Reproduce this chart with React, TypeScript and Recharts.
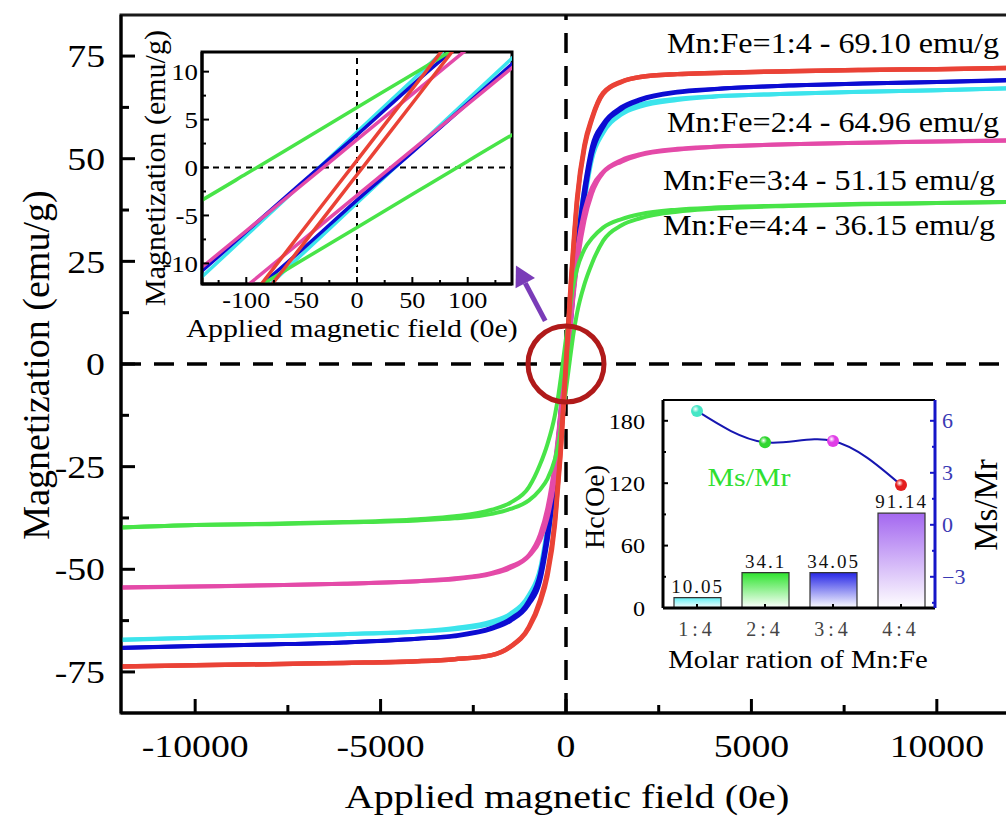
import React from "react";
import {
  LineChart,
  Line,
  XAxis,
  YAxis,
  ReferenceLine,
  ReferenceArea,
  ReferenceDot,
  ComposedChart,
  Bar,
  Cell,
  LabelList,
} from "recharts";

const SERIF = "'Liberation Serif', 'Times New Roman', serif";

// applied field (Oe), shared by every branch
const FIELD = [
  -12000, -10000, -8000, -6000, -4000, -3000, -2000, -1500, -1000, -700, -500,
  -300, -200, -140, -100, -50, 0, 50, 100, 140, 200, 300, 500, 700, 1000, 1500,
  2000, 3000, 4000, 6000, 8000, 10000, 12000,
];

// magnetization (emu/g), "down" = branch coming from +saturation, "up" = from -saturation
const RED_DOWN = [
  -73.7, -73.4, -73.1, -72.8, -72.4, -71.9, -70.9, -68.8, -64.0, -57.5, -50.5,
  -38.0, -27.0, -20.1, -14.2, -6.7, 0.75, 8.2, 15.6, 21.3, 29.0, 40.5, 53.5,
  60.0, 66.0, 68.8, 69.9, 70.6, 70.9, 71.3, 71.6, 71.8, 72.1,
];
const RED_UP = [
  -73.7, -73.4, -73.1, -72.8, -72.4, -71.9, -70.9, -68.9, -64.3, -58.2, -51.6,
  -39.2, -28.2, -21.3, -15.6, -8.2, -0.75, 6.7, 14.2, 20.1, 27.8, 39.5, 52.8,
  59.6, 65.8, 68.7, 69.9, 70.6, 70.9, 71.3, 71.6, 71.8, 72.1,
];
const BLUE_DOWN = [
  -69.1, -68.7, -68.3, -67.8, -66.9, -66.1, -64.2, -62.1, -57.6, -51.0, -40.5,
  -25.2, -17.0, -10.8, -6.7, -1.6, 3.4, 8.6, 13.6, 17.7, 22.8, 29.7, 43.2, 53.0,
  58.5, 62.6, 64.5, 66.3, 67.0, 67.8, 68.3, 68.7, 69.2,
];
const BLUE_UP = [
  -69.2, -68.7, -68.3, -67.8, -66.9, -66.3, -64.5, -62.6, -58.5, -53.0, -43.2,
  -29.7, -22.8, -17.7, -13.6, -8.6, -3.4, 1.6, 6.7, 10.8, 17.0, 25.2, 40.5, 51.0,
  57.6, 62.1, 64.2, 66.1, 66.9, 67.8, 68.3, 68.7, 69.1,
];
const CYAN_DOWN = [
  -67.2, -66.7, -66.3, -65.8, -65.1, -64.3, -62.7, -60.8, -56.2, -49.8, -39.5,
  -26.0, -17.7, -11.4, -7.1, -1.7, 3.7, 9.1, 14.5, 18.5, 23.5, 31.0, 43.0, 51.5,
  57.2, 61.5, 63.2, 64.6, 65.2, 65.8, 66.3, 66.7, 67.1,
];
const CYAN_UP = [
  -67.1, -66.7, -66.3, -65.8, -65.2, -64.6, -63.2, -61.5, -57.2, -51.5, -43.0,
  -31.0, -23.5, -18.5, -14.5, -9.1, -3.7, 1.7, 7.1, 11.4, 17.7, 26.0, 39.5, 49.8,
  56.2, 60.8, 62.7, 64.3, 65.1, 65.8, 66.3, 66.7, 67.2,
];
const MAGENTA_DOWN = [
  -54.4, -54.2, -53.9, -53.5, -52.9, -52.2, -50.9, -49.3, -46.5, -41.5, -35.0,
  -24.0, -16.2, -10.4, -6.6, -1.85, 2.9, 7.65, 12.4, 16.2, 21.0, 28.0, 37.5,
  43.0, 46.8, 49.7, 51.1, 52.4, 52.9, 53.5, 53.9, 54.2, 54.5,
];
const MAGENTA_UP = [
  -54.5, -54.2, -53.9, -53.5, -52.9, -52.4, -51.1, -49.7, -46.8, -43.0, -37.5,
  -28.0, -21.0, -16.2, -12.4, -7.65, -2.9, 1.85, 6.6, 10.4, 16.2, 24.0, 35.0,
  41.5, 46.5, 49.3, 50.9, 52.2, 52.9, 53.5, 53.9, 54.2, 54.4,
];
const GREEN_DOWN = [
  -39.8, -39.2, -38.9, -38.5, -37.8, -37.1, -35.5, -33.8, -30.0, -24.5, -19.5,
  -12.5, -7.3, -3.4, -0.66, 2.8, 6.26, 9.7, 13.2, 15.9, 19.3, 23.2, 28.0, 30.6,
  33.2, 35.3, 36.5, 37.6, 38.1, 38.6, 39.0, 39.2, 39.5,
];
const GREEN_UP = [
  -39.8, -39.2, -39.0, -38.6, -38.1, -37.6, -36.5, -35.3, -33.2, -30.6, -28.0,
  -23.2, -19.3, -15.9, -13.2, -9.7, -6.26, -2.8, 0.66, 3.4, 7.3, 12.5, 19.5,
  24.5, 30.0, 33.8, 35.5, 37.1, 37.8, 38.5, 38.9, 39.2, 39.5,
];

const SAT_LABELS = [
  "Mn:Fe=1:4 - 69.10 emu/g",
  "Mn:Fe=2:4 - 64.96 emu/g",
  "Mn:Fe=3:4 - 51.15 emu/g",
  "Mn:Fe=4:4 - 36.15 emu/g",
];

// inset bar chart
const RATIOS = ["1:4", "2:4", "3:4", "4:4"];
const HC = [10.05, 34.1, 34.05, 91.14];
const MS_MR = [6.57, 4.76, 4.84, 2.3];

const MAIN_X_TICKS = [-10000, -7500, -5000, -2500, 0, 2500, 5000, 7500, 10000];
const MAIN_Y_TICKS = [-75, -62.5, -50, -37.5, -25, -12.5, 0, 12.5, 25, 37.5, 50, 62.5, 75];
const INSET_X_TICKS = [-125, -100, -75, -50, -25, 0, 25, 50, 75, 100, 125];
const INSET_Y_TICKS = [-10, -7.5, -5, -2.5, 0, 2.5, 5, 7.5, 10];
const HC_TICKS = [0, 30, 60, 90, 120, 150, 180];
const MSMR_TICKS = [-4.5, -3, -1.5, 0, 1.5, 3, 4.5, 6];

const rows = FIELD.map((h, i) => ({
  h,
  redDown: RED_DOWN[i],
  redUp: RED_UP[i],
  blueDown: BLUE_DOWN[i],
  blueUp: BLUE_UP[i],
  cyanDown: CYAN_DOWN[i],
  cyanUp: CYAN_UP[i],
  magDown: MAGENTA_DOWN[i],
  magUp: MAGENTA_UP[i],
  greenDown: GREEN_DOWN[i],
  greenUp: GREEN_UP[i],
}));

const barRows = RATIOS.map((r, i) => ({ ratio: r, hc: HC[i], msmr: MS_MR[i] }));

// draw order matters: later ones sit on top
const SERIES = [
  { key: "cyan", color: "#3ce4ec" },
  { key: "blue", color: "#0c0cd2" },
  { key: "mag", color: "#e44aa8" },
  { key: "green", color: "#48e448" },
  { key: "red", color: "#ea4236" },
];

const BAR_TOP = ["#5ff0f5", "#2ee42e", "#2626e6", "#a468f0"];
const BALL = ["#45e6c6", "#2fd62f", "#e03ee6", "#e41e1e"];

interface TickCfg {
  side: "left" | "right" | "bottom";
  margin: number;
  isMajor: (v: any) => boolean;
  majorLen: number;
  minorLen: number;
  fontSize: number;
  sx: number;
  color: string;
  tickColor: string;
  tickWidth: number;
  fmt?: (v: any) => string;
  spacing?: number;
}

function makeTick(c: TickCfg) {
  return (props: any) => {
    const { x, y, payload } = props;
    const v = payload.value;
    const major = c.isMajor(v);
    const len = major ? c.majorLen : c.minorLen;
    const label = major ? (c.fmt ? c.fmt(v) : String(v)) : "";
    const textProps = {
      fill: c.color,
      fontSize: c.fontSize,
      fontFamily: SERIF,
      letterSpacing: c.spacing ?? 0,
    };
    if (c.side === "bottom") {
      const ay = y - c.margin;
      return (
        <g>
          {len > 0 && (
            <line x1={x} x2={x} y1={ay} y2={ay - len} stroke={c.tickColor} strokeWidth={c.tickWidth} />
          )}
          <text transform={`translate(${x},${y}) scale(${c.sx},1)`} textAnchor="middle" dy="0.71em" {...textProps}>
            {label}
          </text>
        </g>
      );
    }
    const dir = c.side === "left" ? 1 : -1;
    const ax = x + dir * c.margin;
    return (
      <g>
        {len > 0 && (
          <line x1={ax} x2={ax + dir * len} y1={y} y2={y} stroke={c.tickColor} strokeWidth={c.tickWidth} />
        )}
        <text
          transform={`translate(${x},${y}) scale(${c.sx},1)`}
          textAnchor={c.side === "left" ? "end" : "start"}
          dy="0.35em"
          {...textProps}
        >
          {label}
        </text>
      </g>
    );
  };
}

const mainXTick = makeTick({
  side: "bottom", margin: 21, isMajor: (v) => v % 5000 === 0, majorLen: 14, minorLen: 8,
  fontSize: 32, sx: 1.18, color: "#000", tickColor: "#000", tickWidth: 3,
});
const mainYTick = makeTick({
  side: "left", margin: 16, isMajor: (v) => v % 25 === 0, majorLen: 14, minorLen: 8,
  fontSize: 32, sx: 1.18, color: "#000", tickColor: "#000", tickWidth: 3,
});
const insetXTick = makeTick({
  side: "bottom", margin: 8, isMajor: (v) => v % 50 === 0, majorLen: 7, minorLen: 4,
  fontSize: 23, sx: 1.14, color: "#000", tickColor: "#000", tickWidth: 2,
});
const insetYTick = makeTick({
  side: "left", margin: 4, isMajor: (v) => v % 5 === 0, majorLen: 7, minorLen: 4,
  fontSize: 24, sx: 1.12, color: "#000", tickColor: "#000", tickWidth: 2,
});
const hcTick = makeTick({
  side: "left", margin: 18, isMajor: (v) => v % 60 === 0, majorLen: 5, minorLen: 3,
  fontSize: 22, sx: 1.1, color: "#000", tickColor: "#000", tickWidth: 2,
});
const msmrTick = makeTick({
  side: "right", margin: 7, isMajor: (v) => v % 3 === 0, majorLen: 5, minorLen: 3,
  fontSize: 20, sx: 1.1, color: "#3a3ab4", tickColor: "#1515c8", tickWidth: 2,
  fmt: (v) => (v < 0 ? `\u2212${Math.abs(v)}` : String(v)),
});
const ratioTick = makeTick({
  side: "bottom", margin: 14, isMajor: () => true, majorLen: 4, minorLen: 4,
  fontSize: 20, sx: 1, color: "#444", tickColor: "#000", tickWidth: 2, spacing: 4,
});

function ArrowShape(props: any) {
  const { x1, y1, x2, y2 } = props;
  const ang = Math.atan2(y2 - y1, x2 - x1);
  const hl = 20;
  const hw = 11;
  const bx = x2 - hl * Math.cos(ang);
  const by = y2 - hl * Math.sin(ang);
  const px = -Math.sin(ang) * hw;
  const py = Math.cos(ang) * hw;
  return (
    <g>
      <line x1={x1} y1={y1} x2={bx} y2={by} stroke="#7a3cb8" strokeWidth={5} />
      <polygon points={`${x2},${y2} ${bx + px},${by + py} ${bx - px},${by - py}`} fill="#7a3cb8" />
    </g>
  );
}

function BallDot(props: any) {
  const { cx, cy, index } = props;
  return <circle key={`ball-${index}`} cx={cx} cy={cy} r={6} fill={`url(#ball${index})`} />;
}

function Txt(props: {
  x: number; y: number; size: number; children: React.ReactNode;
  rotate?: boolean; sx?: number; left?: boolean; color?: string;
}) {
  const { x, y, size, rotate, sx = 1, left, color = "#000" } = props;
  const transform = left
    ? `translateY(-50%) scaleX(${sx})`
    : `translate(-50%,-50%)${rotate ? " rotate(-90deg)" : ""} scaleX(${sx})`;
  return (
    <div
      style={{
        position: "absolute", left: x, top: y, fontSize: size, lineHeight: 1,
        whiteSpace: "nowrap", fontFamily: SERIF, color, transform,
        transformOrigin: left ? "left center" : "center center",
      }}
    >
      {props.children}
    </div>
  );
}

function MainChart() {
  return (
    <LineChart width={1012} height={818} data={rows} margin={{ top: 15, right: 1, left: 0, bottom: 0 }}>
      <XAxis
        type="number" dataKey="h" domain={[-12000, 12000]} ticks={MAIN_X_TICKS} interval={0}
        tick={mainXTick} tickLine={false} tickSize={0} tickMargin={21} height={105}
        axisLine={{ stroke: "#000", strokeWidth: 3 }}
      />
      <YAxis
        type="number" domain={[-85, 85]} ticks={MAIN_Y_TICKS} interval={0}
        tick={mainYTick} tickLine={false} tickSize={0} tickMargin={16} width={121}
        axisLine={{ stroke: "#000", strokeWidth: 3 }}
      />
      <ReferenceArea x1={-12000} x2={12000} y1={-85} y2={85} fill="none" fillOpacity={0} stroke="#1a1a1a" strokeWidth={3} />
      <ReferenceLine x={0} stroke="#000" strokeWidth={3.5} strokeDasharray="20 13" />
      <ReferenceLine y={0} stroke="#000" strokeWidth={3.5} strokeDasharray="20 13" />
      <ReferenceDot x={0} y={0} r={38} fill="none" stroke="#b01a1a" strokeWidth={5} />
      {SERIES.flatMap((s) => [
        <Line key={`${s.key}d`} type="monotone" dataKey={`${s.key}Down`} stroke={s.color}
          strokeWidth={s.key === "red" ? 4.5 : 4} dot={false} isAnimationActive={false} />,
        <Line key={`${s.key}u`} type="monotone" dataKey={`${s.key}Up`} stroke={s.color}
          strokeWidth={s.key === "red" ? 4.5 : 4} dot={false} isAnimationActive={false} />,
      ])}
      <ReferenceLine
        segment={[{ x: -560, y: 10.5 }, { x: -1350, y: 24 }]}
        shape={ArrowShape}
        ifOverflow="visible"
      />
    </LineChart>
  );
}

function LoopInset() {
  return (
    <LineChart width={390} height={330} data={rows} margin={{ top: 32, right: 18, left: 0, bottom: 0 }}>
      <XAxis
        type="number" dataKey="h" domain={[-140, 140]} allowDataOverflow ticks={INSET_X_TICKS} interval={0}
        tick={insetXTick} tickLine={false} tickSize={0} tickMargin={8} height={66}
        axisLine={{ stroke: "#000", strokeWidth: 3 }}
      />
      <YAxis
        type="number" domain={[-12.15, 12.05]} allowDataOverflow ticks={INSET_Y_TICKS} interval={0}
        tick={insetYTick} tickLine={false} tickSize={0} tickMargin={4} width={62}
        axisLine={{ stroke: "#000", strokeWidth: 3 }}
      />
      <ReferenceLine x={0} stroke="#000" strokeWidth={2} strokeDasharray="6 5" />
      <ReferenceLine y={0} stroke="#000" strokeWidth={2} strokeDasharray="6 5" />
      {SERIES.flatMap((s) => [
        <Line key={`${s.key}d`} type="monotone" dataKey={`${s.key}Down`} stroke={s.color}
          strokeWidth={3.5} dot={false} isAnimationActive={false} />,
        <Line key={`${s.key}u`} type="monotone" dataKey={`${s.key}Up`} stroke={s.color}
          strokeWidth={3.5} dot={false} isAnimationActive={false} />,
      ])}
      <ReferenceArea x1={-140} x2={140} y1={-12.15} y2={12.05} fill="none" fillOpacity={0} stroke="#000" strokeWidth={3} />
    </LineChart>
  );
}

function CoercivityInset() {
  return (
    <ComposedChart width={416} height={290} data={barRows} margin={{ top: 15, right: 0, left: 0, bottom: 0 }}>
      <defs>
        {BAR_TOP.map((c, i) => (
          <linearGradient key={i} id={`hcGrad${i}`} x1="0" y1="0" x2="0" y2="1">
            <stop offset="0%" stopColor={c} />
            <stop offset="100%" stopColor="#ffffff" />
          </linearGradient>
        ))}
        {BALL.map((c, i) => (
          <radialGradient key={i} id={`ball${i}`} cx="38%" cy="35%" r="65%">
            <stop offset="0%" stopColor="#ffffff" />
            <stop offset="45%" stopColor={c} />
            <stop offset="100%" stopColor={c} />
          </radialGradient>
        ))}
      </defs>
      <XAxis
        dataKey="ratio" type="category" tick={ratioTick} tickLine={false} tickSize={0} tickMargin={14}
        height={67} interval={0} axisLine={{ stroke: "#000", strokeWidth: 3 }}
      />
      <YAxis
        yAxisId="hc" type="number" domain={[0, 200]} ticks={HC_TICKS} interval={0} tick={hcTick}
        tickLine={false} tickSize={0} tickMargin={18} width={73} axisLine={{ stroke: "#000", strokeWidth: 3 }}
      />
      <YAxis
        yAxisId="ratio" orientation="right" type="number" domain={[-4.8, 7.2]} ticks={MSMR_TICKS} interval={0}
        tick={msmrTick} tickLine={false} tickSize={0} tickMargin={7} width={71}
        axisLine={{ stroke: "#1515c8", strokeWidth: 3 }}
      />
      <ReferenceLine yAxisId="hc" y={200} stroke="#000" strokeWidth={2} />
      <Bar yAxisId="hc" dataKey="hc" barSize={47} stroke="#333" strokeWidth={1.2} isAnimationActive={false}>
        {barRows.map((_, i) => (
          <Cell key={i} fill={`url(#hcGrad${i})`} />
        ))}
        <LabelList
          dataKey="hc"
          content={(p: any) => (
            <text
              x={p.x + p.width / 2} y={p.y - 5} textAnchor="middle" fontSize={19}
              fontFamily={SERIF} letterSpacing={2} fill="#111"
            >
              {p.value}
            </text>
          )}
        />
      </Bar>
      <Line
        yAxisId="ratio" type="natural" dataKey="msmr" stroke="#1616b0" strokeWidth={2}
        dot={BallDot} isAnimationActive={false}
      />
    </ComposedChart>
  );
}

export default function App() {
  return (
    <div
      style={{
        position: "absolute", left: 0, top: 0, width: 1006, height: 818,
        overflow: "hidden", background: "#fff", fontFamily: SERIF,
      }}
    >
      <div style={{ position: "absolute", left: 0, top: 0 }}>
        <MainChart />
      </div>
      <div style={{ position: "absolute", left: 140, top: 20 }}>
        <LoopInset />
      </div>
      <div style={{ position: "absolute", left: 590, top: 385 }}>
        <CoercivityInset />
      </div>

      <Txt x={36} y={365} size={38} rotate>Magnetization (emu/g)</Txt>
      <Txt x={567} y={797} size={34} sx={1.18}>Applied magnetic field (0e)</Txt>

      <Txt x={667} y={43} size={30} sx={1.07} left>{SAT_LABELS[0]}</Txt>
      <Txt x={667} y={122} size={30} sx={1.07} left>{SAT_LABELS[1]}</Txt>
      <Txt x={663} y={180} size={30} sx={1.07} left>{SAT_LABELS[2]}</Txt>
      <Txt x={663} y={225} size={30} sx={1.07} left>{SAT_LABELS[3]}</Txt>

      <Txt x={155} y={168} size={30} rotate>Magnetization (emu/g)</Txt>
      <Txt x={352} y={329} size={26} sx={1.15}>Applied magnetic field (0e)</Txt>

      <Txt x={595} y={507} size={28} rotate>Hc(Oe)</Txt>
      <Txt x={986} y={505} size={33} rotate>Ms/Mr</Txt>
      <Txt x={749} y={478} size={26} sx={1.15} color="#30e030">Ms/Mr</Txt>
      <Txt x={798} y={659} size={25} sx={1.15}>Molar ration of Mn:Fe</Txt>
    </div>
  );
}
